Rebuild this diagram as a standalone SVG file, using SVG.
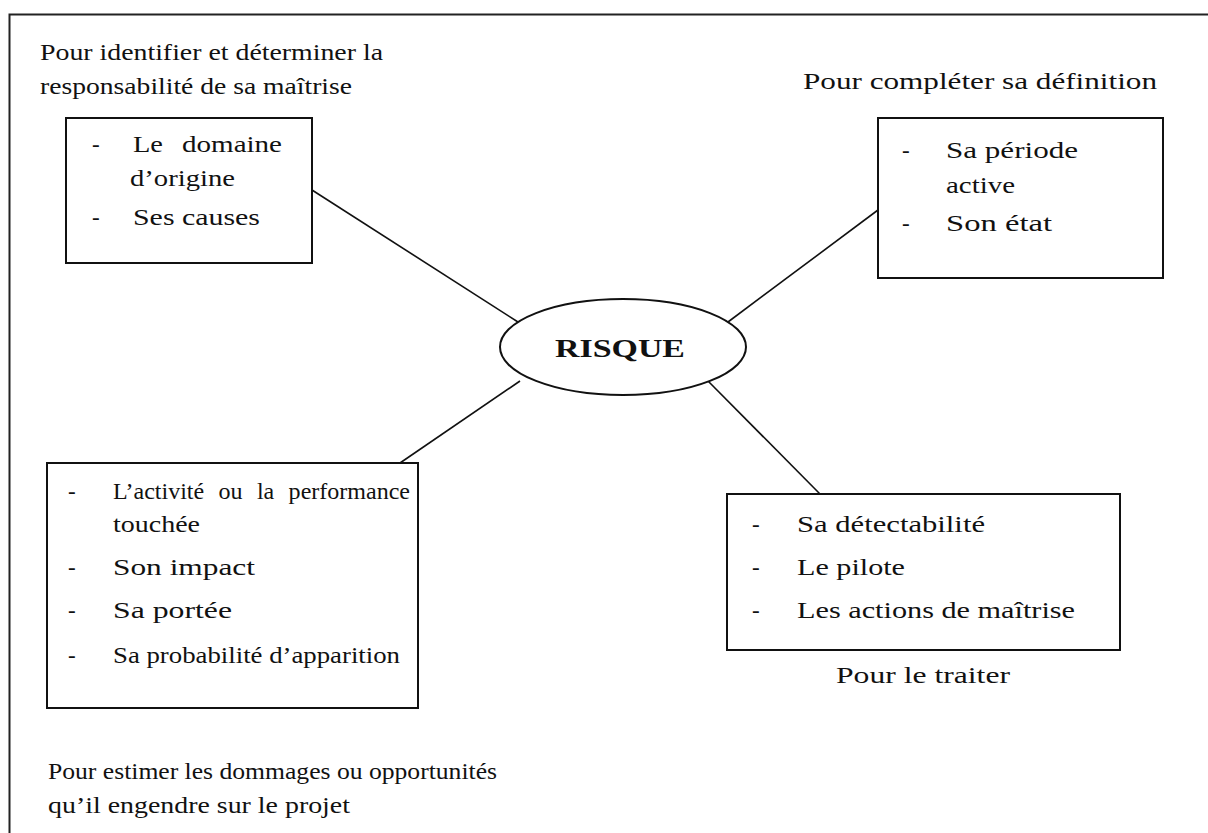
<svg xmlns="http://www.w3.org/2000/svg" width="1208" height="833" viewBox="0 0 1208 833">
<style>
text{font-family:'Liberation Serif','Times New Roman',Times,'Nimbus Roman','Nimbus Roman No9 L',FreeSerif,'Noto Serif',Tinos,'DejaVu Serif',serif;fill:#111}
.t{font-size:23px}
.b{font-size:25px;font-weight:bold}
.box{fill:#fff;stroke:#111;stroke-width:2}
.ln{stroke:#111;stroke-width:1.6;fill:none}
</style>
<rect x="0" y="0" width="1208" height="833" fill="#fff"/>
<path d="M9.5,900 V14.5 H1300" fill="none" stroke="#222" stroke-width="2"/>

<g id="connectors">
<line class="ln" x1="312" y1="190" x2="518" y2="322"/>
<line class="ln" x1="728" y1="322" x2="878" y2="210"/>
<line class="ln" x1="520" y1="381" x2="400" y2="463"/>
<line class="ln" x1="708" y1="381" x2="820" y2="494"/>
</g>

<g id="label-identifier">
<text class="t" x="40" y="60" textLength="343" lengthAdjust="spacingAndGlyphs">Pour identifier et déterminer la</text>
<text class="t" x="40" y="94" textLength="312" lengthAdjust="spacingAndGlyphs">responsabilité de sa maîtrise</text>
</g>

<g id="node-origine">
<rect class="box" x="66" y="118" width="246" height="145"/>
<text class="t" x="92" y="152">-</text>
<text class="t" x="133" y="152" textLength="30" lengthAdjust="spacingAndGlyphs">Le</text>
<text class="t" x="282" y="152" text-anchor="end" textLength="100" lengthAdjust="spacingAndGlyphs">domaine</text>
<text class="t" x="130" y="186" textLength="105" lengthAdjust="spacingAndGlyphs">d’origine</text>
<text class="t" x="92" y="225">-</text>
<text class="t" x="133" y="225" textLength="127" lengthAdjust="spacingAndGlyphs">Ses causes</text>
</g>

<g id="label-definition">
<text class="t" x="803" y="89" textLength="354" lengthAdjust="spacingAndGlyphs">Pour compléter sa définition</text>
</g>

<g id="node-periode">
<rect class="box" x="878" y="118" width="285" height="160"/>
<text class="t" x="902" y="158">-</text>
<text class="t" x="946" y="158" textLength="132" lengthAdjust="spacingAndGlyphs">Sa période</text>
<text class="t" x="946" y="193" textLength="69" lengthAdjust="spacingAndGlyphs">active</text>
<text class="t" x="902" y="231">-</text>
<text class="t" x="946" y="231" textLength="106" lengthAdjust="spacingAndGlyphs">Son état</text>
</g>

<g id="node-risque">
<ellipse cx="623" cy="347" rx="123" ry="48" fill="#fff" stroke="#111" stroke-width="2"/>
<text class="b" x="620" y="357" text-anchor="middle" textLength="130" lengthAdjust="spacingAndGlyphs">RISQUE</text>
</g>

<g id="node-impact">
<rect class="box" x="47" y="463" width="371" height="245"/>
<text class="t" x="68" y="499">-</text>
<text class="t" x="113" y="499" textLength="297" lengthAdjust="spacingAndGlyphs" word-spacing="8">L’activité ou la performance</text>
<text class="t" x="113" y="532" textLength="87" lengthAdjust="spacingAndGlyphs">touchée</text>
<text class="t" x="68" y="575">-</text>
<text class="t" x="113" y="575" textLength="142" lengthAdjust="spacingAndGlyphs">Son impact</text>
<text class="t" x="68" y="618">-</text>
<text class="t" x="113" y="618" textLength="119" lengthAdjust="spacingAndGlyphs">Sa portée</text>
<text class="t" x="68" y="663">-</text>
<text class="t" x="113" y="663" textLength="287" lengthAdjust="spacingAndGlyphs">Sa probabilité d’apparition</text>
</g>

<g id="node-traiter">
<rect class="box" x="727" y="494" width="393" height="156"/>
<text class="t" x="752" y="532">-</text>
<text class="t" x="797" y="532" textLength="188" lengthAdjust="spacingAndGlyphs">Sa détectabilité</text>
<text class="t" x="752" y="575">-</text>
<text class="t" x="797" y="575" textLength="108" lengthAdjust="spacingAndGlyphs">Le pilote</text>
<text class="t" x="752" y="618">-</text>
<text class="t" x="797" y="618" textLength="278" lengthAdjust="spacingAndGlyphs">Les actions de maîtrise</text>
</g>

<g id="label-traiter">
<text class="t" x="836" y="683" textLength="174" lengthAdjust="spacingAndGlyphs">Pour le traiter</text>
</g>

<g id="label-estimer">
<text class="t" x="48" y="779" textLength="449" lengthAdjust="spacingAndGlyphs">Pour estimer les dommages ou opportunités</text>
<text class="t" x="48" y="813" textLength="302" lengthAdjust="spacingAndGlyphs">qu’il engendre sur le projet</text>
</g>
</svg>
